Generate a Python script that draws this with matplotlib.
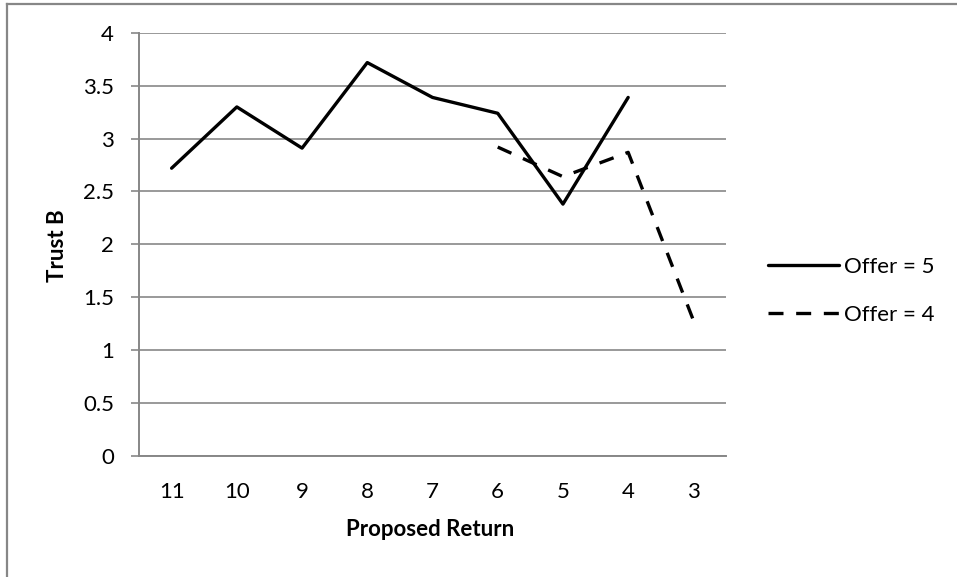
import matplotlib
matplotlib.use('Agg')
import matplotlib.pyplot as plt
from matplotlib.lines import Line2D
import numpy as np

# Trust B by proposed return, one series per offer level
returns = ['11', '10', '9', '8', '7', '6', '5', '4', '3']
offer5 = [2.72, 3.30, 2.91, 3.72, 3.39, 3.24, 2.38, 3.39, np.nan]
offer4 = [np.nan, np.nan, np.nan, np.nan, np.nan, 2.92, 2.64, 2.87, 1.28]
y_ticks = [0, 0.5, 1, 1.5, 2, 2.5, 3, 3.5, 4]
y_tick_labels = ['0', '0.5', '1', '1.5', '2', '2.5', '3', '3.5', '4']
series_labels = ['Offer = 5', 'Offer = 4']

GRAY = '#878787'
W, H = 957, 577

plt.rcParams['font.family'] = ['Lato', 'DejaVu Sans']
plt.rcParams['font.size'] = 16

fig = plt.figure(figsize=(W / 100, H / 100), dpi=100)
ax = fig.add_axes([139 / W, 1 - 455.5 / H, 587 / W, 422.5 / H])

x = np.arange(len(returns))
ax.plot(x, offer5, color='black', lw=2.4, solid_capstyle='round',
        solid_joinstyle='round', label=series_labels[0])
ax.plot(x, offer4, color='black', lw=2.4, dashes=(4.5, 3.8),
        dash_capstyle='butt', label=series_labels[1])

ax.set_xlim(-0.5, len(returns) - 0.5)
ax.set_ylim(0, 4)
ax.set_xticks(x)
ax.set_xticklabels(returns)
ax.set_yticks(y_ticks)
ax.set_yticklabels(y_tick_labels)

ax.grid(True, axis='y', color=GRAY, lw=1.2)
ax.set_axisbelow(True)
for side in ('top', 'right'):
    ax.spines[side].set_visible(False)
for side in ('left', 'bottom'):
    ax.spines[side].set_color(GRAY)
    ax.spines[side].set_linewidth(1.4)
ax.tick_params(axis='y', length=6, width=1.2, color=GRAY, pad=12)
ax.tick_params(axis='x', length=0, pad=19)

fig.text(57 / W, 1 - 246 / H, 'Trust B', rotation=90, ha='center',
         va='center', fontweight='bold')
fig.text(430 / W, 1 - 530 / H, 'Proposed Return', ha='center',
         va='center', fontweight='bold')

fig.legend(loc='center left', bbox_to_anchor=(768 / W, 1 - 291 / H),
           frameon=False, borderpad=0, borderaxespad=0,
           handlelength=3.2, handletextpad=0.2, labelspacing=1.27)

# chart frame, clipped on the right and bottom
fig.add_artist(Line2D([6.5 / W, 6.5 / W], [0, 1 - 3.5 / H],
                      color=GRAY, lw=1.6, transform=fig.transFigure))
fig.add_artist(Line2D([6.5 / W, 1], [1 - 3.5 / H, 1 - 3.5 / H],
                      color=GRAY, lw=1.6, transform=fig.transFigure))

fig.savefig('out.png', dpi=100)
